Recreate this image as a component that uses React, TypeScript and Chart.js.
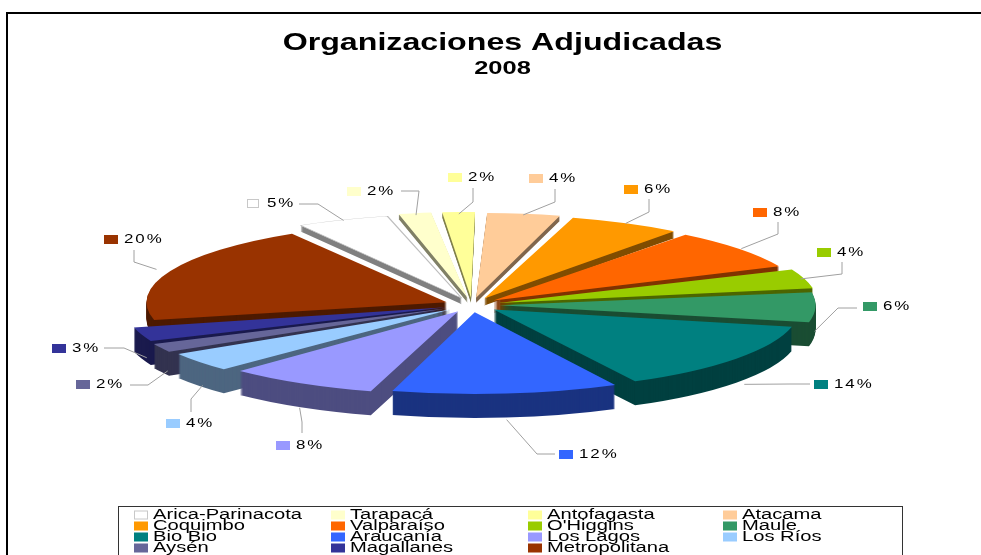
import React, { useEffect, useRef } from "react";
import { Chart, registerables } from "chart.js";

Chart.register(...registerables);

const titleText = "Organizaciones Adjudicadas";
const subtitleText = "2008";
const categories = ["Arica-Parinacota", "Tarapacá", "Antofagasta", "Atacama", "Coquimbo", "Valparaíso", "O'Higgins", "Maule", "Bio Bio", "Araucanía", "Los Lagos", "Los Ríos", "Aysén", "Magallanes", "Metropolitana"];
const shares = [5, 2, 2, 4, 6, 8, 4, 6, 14, 12, 8, 4, 2, 3, 20];
const colors = ["#FFFFFF", "#FFFFCC", "#FFFF99", "#FFCC99", "#FF9900", "#FF6600", "#99CC00", "#339966", "#008080", "#3366FF", "#9999FF", "#99CCFF", "#666699", "#333399", "#993300"];
const wallColors = ["#808080", "#808066", "#80804D", "#80664D", "#804D00", "#803300", "#4D6600", "#1A4D33", "#004040", "#1A3380", "#4D4D80", "#4D6680", "#333350", "#1A1A4D", "#4D1A00"];

// callout layout: swatch left/top, elbow and end of the leader line
const swatches = [[247,199],[347,187],[448,173],[529,174],[624,185],[753,208],[817,248],[863,302],[814,380],[559,450],[276,441],[166,419],[76,380],[52,344],[104,235]];
const elbows = [[318,204],[419,191],[473,202],[555,202],[649,212],[778,234],[842,274],[838,308],[790,384],[537,454],[302,422],[191,399],[148,385],[124,348],[134,262]];
const ends = [[299,204],[401,191],[473,188],[555,189],[649,199],[778,222],[842,262],[857,308],[810,384],[555,454],[302,433],[191,412],[130,385],[104,348],[134,250]];

const CX = 472, CY = 305, RX = 299, RY = 79.5;
const legendCols = [134, 331, 528, 723];
const legendRows = [515, 526, 537, 548];

function depthFor(mid: number) { const s = Math.sin(mid); return s >= 0 ? 24 : 24 + 19 * s; }

const pie3d = {
  id: "pie3d",
  beforeDatasetDraw(chart: any) {
    const ctx = chart.ctx;
    const arcs = chart.getDatasetMeta(0).data;
    const order = arcs.map((_: any, i: number) => i).sort((a: number, b: number) => {
      const ma = (arcs[a].startAngle + arcs[a].endAngle) / 2;
      const mb = (arcs[b].startAngle + arcs[b].endAngle) / 2;
      return Math.sin(ma) - Math.sin(mb);
    });
    for (const i of order) {
      const el = arcs[i];
      const sx = RX / el.outerRadius, sy = RY / el.outerRadius;
      const mid = (el.startAngle + el.endAngle) / 2;
      const base = el.options;
      const put = (dy: number) => {
        ctx.save();
        ctx.translate(CX, CY + dy);
        ctx.scale(sx, sy);
        ctx.translate(-el.x, -el.y);
        el.draw(ctx);
        ctx.restore();
      };
      el.options = { ...base, backgroundColor: wallColors[i], borderWidth: 0 };
      for (let d = Math.round(depthFor(mid)); d >= 1; d--) put(d);
      el.options = base;
      put(0);
    }
    return false;
  },
  afterDatasetsDraw(chart: any) {
    const ctx = chart.ctx;
    const arcs = chart.getDatasetMeta(0).data;
    ctx.save();
    ctx.textBaseline = "middle";
    ctx.textAlign = "left";
    arcs.forEach((el: any, i: number) => {
      const mid = (el.startAngle + el.endAngle) / 2;
      const off = (el.options.offset || 0) / 4;
      const sx = RX / el.outerRadius, sy = RY / el.outerRadius;
      const reach = el.outerRadius + 1.6 * off;
      const ax = CX + Math.cos(mid) * reach * sx;
      const ay = CY + Math.sin(mid) * reach * sy + (Math.sin(mid) > -0.1 ? depthFor(mid) : 0);
      ctx.strokeStyle = "#A0A0A0";
      ctx.lineWidth = 1;
      ctx.beginPath();
      ctx.moveTo(ax, ay);
      ctx.lineTo(elbows[i][0], elbows[i][1]);
      ctx.lineTo(ends[i][0], ends[i][1]);
      ctx.stroke();
      const [bx, by] = swatches[i];
      ctx.fillStyle = colors[i];
      ctx.fillRect(bx, by, 14, 9);
      if (i === 0) { ctx.strokeStyle = "#C8C8C8"; ctx.strokeRect(bx + 0.5, by + 0.5, 11, 8); }
      ctx.fillStyle = "#000";
      ctx.font = "13px 'Liberation Sans'";
      ctx.letterSpacing = "1.5px";
      (ctx as any).__s = 1.3;
      ctx.fillText(shares[i] + "%", bx + 20, by + 4);
      ctx.letterSpacing = "0px";
    });
    // legend
    ctx.strokeStyle = "#333";
    ctx.lineWidth = 1;
    ctx.fillStyle = "#fff";
    ctx.fillRect(118.5, 506.5, 784, 60);
    ctx.strokeRect(118.5, 506.5, 784, 60);
    ctx.font = "14px 'Liberation Sans'";
    categories.forEach((name, i) => {
      const x = legendCols[i % 4], y = legendRows[Math.floor(i / 4)];
      ctx.fillStyle = colors[i];
      ctx.fillRect(x, y - 4.5, 14, 9);
      if (i === 0) { ctx.strokeStyle = "#C8C8C8"; ctx.strokeRect(x + 0.5, y - 4, 13, 8); }
      ctx.fillStyle = "#000";
      (ctx as any).__s = 1.44;
      ctx.fillText(name, x + 19, y);
    });
    // frame
    ctx.strokeStyle = "#000";
    ctx.lineWidth = 2;
    ctx.beginPath();
    ctx.moveTo(7, 560);
    ctx.lineTo(7, 13);
    ctx.lineTo(985, 13);
    ctx.stroke();
    ctx.restore();
    (ctx as any).__s = 1.34;
  },
};

export default function App() {
  const ref = useRef<HTMLCanvasElement>(null);
  useEffect(() => {
    const canvas = ref.current!;
    const c = canvas.getContext("2d") as any;
    const raw = c.fillText.bind(c);
    c.__s = 1.34;
    c.fillText = (t: string, x: number, y: number) => {
      c.save();
      c.translate(x, y);
      c.scale(c.__s, 1);
      raw(t, 0, 0);
      c.restore();
    };
    const chart = new Chart(canvas, {
      type: "pie",
      data: {
        labels: categories,
        datasets: [{
          data: shares,
          backgroundColor: colors,
          borderWidth: shares.map((_, i) => (i === 0 ? 1 : 0)),
          borderColor: "#BEBEBE",
          offset: 71,
        }],
      },
      options: {
        responsive: false,
        animation: false,
        rotation: -31,
        layout: { padding: { left: 24, top: 29, bottom: 10 } },
        plugins: {
          legend: { display: false },
          tooltip: { enabled: false },
          title: { display: true, text: titleText, color: "#000", font: { family: "'Liberation Sans'", size: 24, weight: "bold" }, padding: { top: 0, bottom: 0 } },
          subtitle: { display: true, text: subtitleText, color: "#000", font: { family: "'Liberation Sans'", size: 19, weight: "bold" }, padding: { bottom: 4 } },
        },
      },
      plugins: [pie3d],
    } as any);
    return () => chart.destroy();
  }, []);
  return (
    <div style={{ position: "fixed", left: 0, top: 0, width: 981, height: 555, overflow: "hidden", background: "#fff" }}>
      <canvas ref={ref} width={981} height={555} style={{ display: "block" }} />
    </div>
  );
}
